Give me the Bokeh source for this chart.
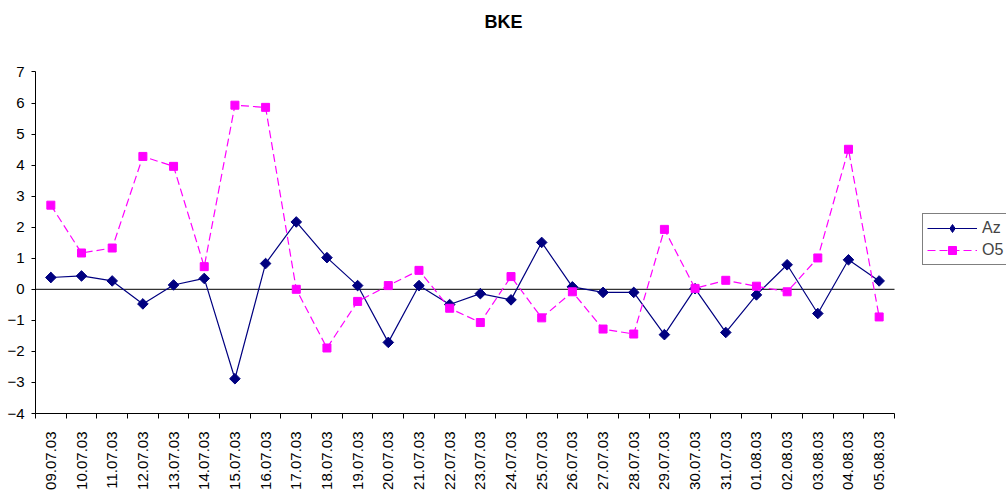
from math import pi
from bokeh.plotting import figure
from bokeh.models import (ColumnDataSource, Range1d, FixedTicker, Legend,
                          LegendItem, Label)
from bokeh.embed import file_html
from bokeh.resources import INLINE

# Daily values, 09.07.03 - 05.08.03
dates = ["09.07.03", "10.07.03", "11.07.03", "12.07.03", "13.07.03", "14.07.03",
         "15.07.03", "16.07.03", "17.07.03", "18.07.03", "19.07.03", "20.07.03",
         "21.07.03", "22.07.03", "23.07.03", "24.07.03", "25.07.03", "26.07.03",
         "27.07.03", "28.07.03", "29.07.03", "30.07.03", "31.07.03", "01.08.03",
         "02.08.03", "03.08.03", "04.08.03", "05.08.03"]
az = [0.38, 0.43, 0.27, -0.47, 0.14, 0.35, -2.88, 0.83, 2.17, 1.02,
      0.12, -1.71, 0.12, -0.49, -0.14, -0.34, 1.51, 0.08, -0.10, -0.10,
      -1.46, 0.02, -1.39, -0.18, 0.79, -0.78, 0.95, 0.27]
o5 = [2.71, 1.17, 1.33, 4.28, 3.96, 0.73, 5.93, 5.86, 0.00, -1.89,
      -0.39, 0.12, 0.61, -0.61, -1.07, 0.41, -0.92, -0.08, -1.28, -1.44,
      1.93, 0.03, 0.29, 0.10, -0.08, 1.01, 4.51, -0.89]
y_ticks = [-4, -3, -2, -1, 0, 1, 2, 3, 4, 5, 6, 7]
y_min, y_max = -4, 7

FONT = "Liberation Sans"
n = len(dates)
xc = [i + 0.5 for i in range(n)]
src = ColumnDataSource(dict(x=xc, az=az, o5=o5))

# The plotting area fills the canvas to the top and right so the title and the
# legend can be drawn inside it; both axes are bounded to the data range.
W, H = 1006, 492
LEFT, BOTTOM = 35, 76
AXIS_W, AXIS_H = 859, 344          # pixel length of the bounded axes
frame_w, frame_h = W - LEFT, H - BOTTOM
x_end = n * frame_w / AXIS_W
y_end = y_min + (y_max - y_min) * frame_h / AXIS_H

p = figure(width=W, height=H, output_backend="svg", toolbar_location=None,
           title=None,
           x_range=Range1d(0, x_end), y_range=Range1d(y_min, y_end),
           min_border_left=LEFT, min_border_right=0,
           min_border_top=0, min_border_bottom=BOTTOM)
p.outline_line_color = None
p.xgrid.visible = False
p.ygrid.visible = False
p.background_fill_color = "white"
p.border_fill_color = "white"

# zero reference line across the category range
p.segment(x0=[0], x1=[n], y0=[0], y1=[0], line_color="black", line_width=1)

NAVY, MAGENTA = "#000080", "#FF00FF"
l_az = p.line("x", "az", source=src, line_color=NAVY, line_width=1.2)
m_az = p.scatter("x", "az", source=src, marker="square", angle=pi / 4, size=7.5,
                 fill_color=NAVY, line_color=NAVY)
l_o5 = p.line("x", "o5", source=src, line_color=MAGENTA, line_width=1.2,
              line_dash="8 4")
m_o5 = p.scatter("x", "o5", source=src, marker="square", size=8,
                 fill_color=MAGENTA, line_color=MAGENTA)

# legend swatch for the Az marker (legend glyphs ignore marker angle); it sits
# on the first Az point, inside the rotated square drawn there
az_key = p.scatter(x=xc[:1], y=az[:1], marker="diamond", size=10,
                   fill_color=NAVY, line_color=NAVY)

# y axis
ya = p.yaxis[0]
ya.bounds = (y_min, y_max)
ya.ticker = FixedTicker(ticks=y_ticks, minor_ticks=[])
ya.axis_line_color = "black"
ya.major_tick_line_color = "black"
ya.major_tick_in = 0
ya.major_tick_out = 4
ya.major_label_standoff = 7
ya.major_label_text_font = FONT
ya.major_label_text_font_size = "15px"
ya.major_label_text_color = "black"

# x axis: labels at category centres, tick marks between categories
xa = p.xaxis[0]
xa.bounds = (0, n)
xa.ticker = FixedTicker(ticks=xc, minor_ticks=list(range(n + 1)))
xa.major_label_overrides = {x: d for x, d in zip(xc, dates)}
xa.major_label_orientation = pi / 2
xa.axis_line_color = "black"
xa.major_tick_line_color = None
xa.major_tick_in = 0
xa.major_tick_out = 0
xa.minor_tick_line_color = "black"
xa.minor_tick_in = 0
xa.minor_tick_out = 5
xa.major_label_standoff = 13
xa.major_label_text_font = FONT
xa.major_label_text_font_size = "15px"
xa.major_label_text_color = "black"

# chart title, centred over the canvas
p.add_layout(Label(x=W / 2 - LEFT, y=frame_h - 24, x_units="screen", y_units="screen",
                   text="BKE", text_align="center", text_baseline="alphabetic",
                   text_font=FONT, text_font_style="bold", text_font_size="18px",
                   text_color="black"))

legend = Legend(items=[LegendItem(label="Az", renderers=[l_az, az_key]),
                       LegendItem(label="O5", renderers=[l_o5, m_o5])],
                location=(887, 148), orientation="vertical")
legend.border_line_color = "black"
legend.border_line_width = 1
legend.background_fill_color = "white"
legend.label_text_font = FONT
legend.label_text_font_size = "16px"
legend.glyph_width = 50
legend.glyph_height = 20
legend.label_height = 20
legend.spacing = 2
legend.padding = 4
legend.margin = 0
legend.label_standoff = 5
p.add_layout(legend, "center")

open("out.html", "w").write(file_html(p, INLINE))
